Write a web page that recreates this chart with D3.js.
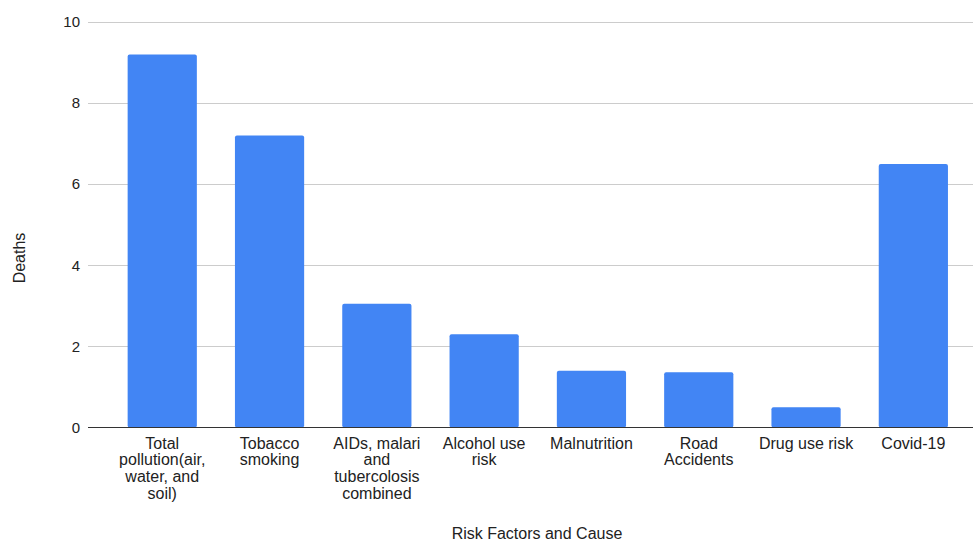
<!DOCTYPE html>
<html>
<head>
<meta charset="utf-8">
<script src="https://cdn.jsdelivr.net/npm/d3@7"></script>
<style>
  html, body { margin: 0; padding: 0; background: #fff; }
  svg { display: block; font-family: Arial, "Liberation Sans", sans-serif; }
</style>
</head>
<body>
<svg id="chart" width="973" height="540"></svg>
<script>
const categories = [
  "Total\npollution(air,\nwater, and\nsoil)",
  "Tobacco\nsmoking",
  "AIDs, malari\nand\ntubercolosis\ncombined",
  "Alcohol use\nrisk",
  "Malnutrition",
  "Road\nAccidents",
  "Drug use risk",
  "Covid-19"
];
const deaths = [9.2, 7.2, 3.05, 2.3, 1.4, 1.36, 0.5, 6.5];
const yTicks = [0, 2, 4, 6, 8, 10];
const xTitle = "Risk Factors and Cause";
const yTitle = "Deaths";

const svg = d3.select("#chart");
const plotLeft = 88, plotRight = 973;
const y = d3.scaleLinear().domain([0, 10]).range([427.5, 22]);
const x = d3.scaleBand()
  .domain(categories)
  .range([108.6, 967])
  .paddingInner(0.355)
  .paddingOuter(0.1775);

// gridlines
svg.append("g").selectAll("line")
  .data(yTicks.filter(d => d !== 0))
  .join("line")
  .attr("x1", plotLeft).attr("x2", plotRight)
  .attr("y1", d => Math.round(y(d)) + 0.5).attr("y2", d => Math.round(y(d)) + 0.5)
  .attr("stroke", "#cccccc").attr("stroke-width", 1);

// y tick labels
svg.append("g").selectAll("text")
  .data(yTicks)
  .join("text")
  .attr("x", 80)
  .attr("y", d => y(d))
  .attr("dy", "0.35em")
  .attr("text-anchor", "end")
  .attr("font-size", 15)
  .attr("fill", "#222")
  .text(d => d);

// bars
svg.append("g").selectAll("rect")
  .data(categories.map((c, i) => ({ c, v: deaths[i] })))
  .join("rect")
  .attr("x", d => x(d.c))
  .attr("width", x.bandwidth())
  .attr("y", d => y(d.v))
  .attr("height", d => y(0) - y(d.v))
  .attr("rx", 2)
  .attr("fill", "#4285F4");

// baseline
svg.append("line")
  .attr("x1", plotLeft).attr("x2", plotRight)
  .attr("y1", 427.5).attr("y2", 427.5)
  .attr("stroke", "#333").attr("stroke-width", 1.2);

// x labels
const xl = svg.append("g").selectAll("text")
  .data(categories)
  .join("text")
  .attr("x", d => x(d) + x.bandwidth() / 2)
  .attr("y", 448.5)
  .attr("text-anchor", "middle")
  .attr("font-size", 16)
  .attr("fill", "#222");
xl.each(function(d) {
  const t = d3.select(this);
  d.split("\n").forEach((line, i) => {
    t.append("tspan")
      .attr("x", x(d) + x.bandwidth() / 2)
      .attr("dy", i === 0 ? 0 : 16.7)
      .text(line);
  });
});

// axis titles
svg.append("text")
  .attr("x", 537).attr("y", 538.5)
  .attr("text-anchor", "middle")
  .attr("font-size", 16)
  .attr("fill", "#222")
  .text(xTitle);

svg.append("text")
  .attr("transform", "translate(24.5,258) rotate(-90)")
  .attr("text-anchor", "middle")
  .attr("font-size", 16)
  .attr("fill", "#222")
  .text(yTitle);
</script>
</body>
</html>
